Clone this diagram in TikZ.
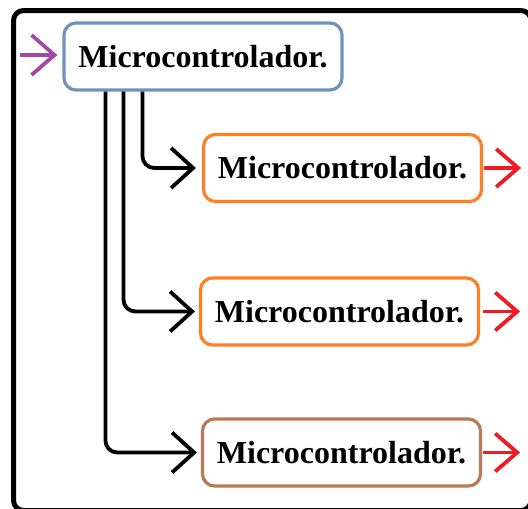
\documentclass[tikz,border=0pt]{standalone}
\usepackage{fontspec}
\setmainfont{Liberation Serif}
\usetikzlibrary{arrows.meta,calc}
\definecolor{bluegray}{HTML}{7092BE}
\definecolor{paintorange}{HTML}{FF7F27}
\definecolor{paintbrown}{HTML}{B97A57}
\definecolor{paintpurple}{HTML}{A349A4}
\definecolor{paintred}{HTML}{ED1C24}
\tikzset{
  box/.style={draw, line width=3.2pt, rounded corners=12pt, fill=white,
    minimum width=278pt, minimum height=67pt, inner sep=0pt,
    font=\fontsize{32}{36}\selectfont\bfseries},
  conn/.style={draw=black, line width=3.8pt, rounded corners=12pt,
    -{Straight Barb[length=22pt,width=40pt]}},
  outarr/.style={draw=paintred, line width=3.8pt,
    -{Straight Barb[length=22pt,width=38pt]}},
  inarr/.style={draw=paintpurple, line width=3.8pt,
    -{Straight Barb[length=23pt,width=40pt]}}
}
\begin{document}
\begin{tikzpicture}[x=1pt,y=-1pt]
\useasboundingbox (0,0) rectangle (528,509);
\begin{scope}
\clip (0,0) rectangle (528,509);
\draw[line width=5pt, rounded corners=10pt] (13.5,10.5) rectangle (531,510.5);
\end{scope}
\node[box, draw=bluegray] (top) at (203,56.5) {Microcontrolador.};
\node[box, draw=paintorange] (m1) at (342.5,168) {Microcontrolador.};
\node[box, draw=paintorange] (m2) at (339.5,311.5) {Microcontrolador.};
\node[box, draw=paintbrown] (m3) at (341.5,452.5) {Microcontrolador.};
\coordinate (in) at (20,55);
\draw[inarr] (in) -- ([xshift=-5pt]top.west |- in);
\draw[conn] ([xshift=80pt]top.south west) |- ([xshift=-6pt]m1.west);
\draw[conn] ([xshift=61pt]top.south west) |- ([xshift=-4pt]m2.west);
\draw[conn] ([xshift=43pt]top.south west) |- ([xshift=-4pt]m3.west);
\draw[outarr] ([xshift=1pt]m1.east) -- ++(37,0);
\draw[outarr] ([xshift=3pt]m2.east) -- ++(37,0);
\draw[outarr] ([xshift=1pt]m3.east) -- ++(37,0);
\end{tikzpicture}
\end{document}
